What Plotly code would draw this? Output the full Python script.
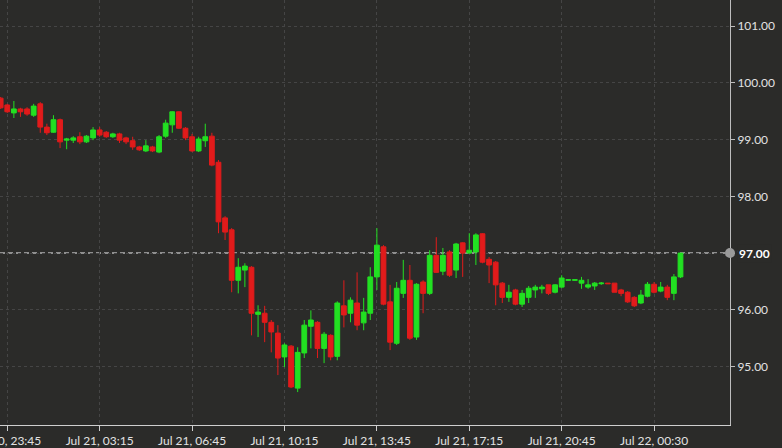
import pandas as pd
import plotly.graph_objects as go

# 15-minute candles (one slot missing during the evening session break)
slots = pd.date_range("2022-07-20 23:30", periods=105, freq="15min")
slots = slots[slots != pd.Timestamp("2022-07-21 22:00")]
times = list(slots.strftime("%b %d, %H:%M"))

open_ = [99.73, 99.61, 99.47, 99.54, 99.54, 99.43, 99.63, 99.22, 99.13, 99.35,
         98.99, 98.99, 99.05, 98.96, 99.03, 99.17, 99.13, 99.05, 99.10, 99.03,
         98.98, 98.87, 98.80, 98.87, 98.78, 99.06, 99.26, 99.49, 99.20, 99.05,
         98.80, 98.98, 99.06, 98.60, 97.62, 97.41, 96.52, 96.70, 96.75, 95.92,
         95.94, 95.78, 95.59, 95.17, 95.36, 94.62, 95.24, 95.71, 95.78, 95.32,
         95.55, 95.18, 96.07, 95.94, 96.12, 95.77, 95.94, 96.58, 97.11, 96.14,
         95.41, 96.29, 96.52, 95.52, 96.49, 96.29, 96.96, 96.68, 97.02, 96.70,
         97.18, 97.00, 97.02, 97.34, 96.89, 96.84, 96.47, 96.22, 96.35, 96.10,
         96.22, 96.35, 96.37, 96.44, 96.31, 96.40, 96.52, 96.52, 96.47, 96.40,
         96.42, 96.46, 96.47, 96.47, 96.35, 96.31, 96.22, 96.12, 96.24, 96.45,
         96.33, 96.40, 96.29, 96.58]

high = [99.75, 99.63, 99.68, 99.56, 99.57, 99.63, 99.66, 99.28, 99.43, 99.37,
        99.03, 99.06, 99.13, 99.08, 99.22, 99.22, 99.15, 99.12, 99.12, 99.05,
        99.05, 98.89, 98.99, 98.89, 99.08, 99.35, 99.50, 99.50, 99.22, 99.10,
        99.05, 99.28, 99.12, 98.64, 97.65, 97.44, 96.91, 96.82, 96.77, 96.08,
        96.07, 95.82, 95.73, 95.41, 95.38, 95.34, 95.82, 95.99, 95.80, 95.61,
        95.57, 96.15, 96.52, 96.22, 96.66, 96.21, 96.75, 97.44, 97.14, 96.44,
        96.49, 96.88, 96.79, 96.47, 96.52, 97.05, 97.28, 97.09, 97.05, 97.18,
        97.19, 97.35, 97.35, 97.35, 96.93, 96.86, 96.49, 96.44, 96.37, 96.35,
        96.42, 96.44, 96.44, 96.44, 96.45, 96.61, 96.54, 96.54, 96.58, 96.54,
        96.49, 96.49, 96.47, 96.47, 96.37, 96.33, 96.24, 96.35, 96.49, 96.49,
        96.49, 96.44, 96.63, 97.00]

low = [99.54, 99.47, 99.38, 99.40, 99.42, 99.40, 99.12, 99.08, 99.12, 98.85,
       98.83, 98.94, 98.92, 98.94, 98.99, 99.05, 99.03, 99.03, 98.94, 98.92,
       98.82, 98.80, 98.78, 98.78, 98.76, 99.03, 99.12, 99.19, 98.99, 98.78,
       98.78, 98.87, 98.53, 97.35, 97.23, 96.31, 96.29, 96.40, 95.55, 95.52,
       95.43, 95.25, 94.85, 94.99, 94.62, 94.55, 95.15, 95.32, 95.15, 95.06,
       95.11, 95.11, 95.69, 95.78, 95.64, 95.64, 95.82, 96.35, 96.08, 95.29,
       95.38, 96.21, 95.47, 95.47, 95.94, 96.26, 96.65, 96.61, 96.58, 96.56,
       96.58, 96.99, 96.79, 96.82, 96.47, 96.08, 96.12, 96.14, 96.08, 96.05,
       96.12, 96.21, 96.29, 96.26, 96.29, 96.38, 96.51, 96.51, 96.37, 96.37,
       96.35, 96.44, 96.46, 96.31, 96.24, 96.12, 96.05, 96.10, 96.22, 96.29,
       96.31, 96.17, 96.17, 96.56]

close = [99.56, 99.49, 99.54, 99.49, 99.45, 99.59, 99.22, 99.12, 99.35, 98.96,
         99.01, 99.03, 98.96, 99.06, 99.17, 99.08, 99.05, 99.10, 98.99, 98.96,
         98.87, 98.82, 98.89, 98.80, 99.05, 99.29, 99.49, 99.20, 99.03, 98.80,
         99.01, 99.05, 98.55, 97.55, 97.37, 96.52, 96.75, 96.77, 95.94, 95.96,
         95.78, 95.61, 95.15, 95.38, 94.64, 95.25, 95.73, 95.82, 95.32, 95.57,
         95.17, 96.12, 95.91, 96.17, 95.73, 95.96, 96.58, 97.14, 96.10, 95.43,
         96.38, 96.52, 95.50, 96.45, 96.29, 96.96, 96.66, 96.96, 96.61, 97.16,
         97.00, 97.05, 97.32, 96.84, 96.79, 96.44, 96.22, 96.31, 96.10, 96.29,
         96.38, 96.40, 96.40, 96.29, 96.44, 96.56, 96.53, 96.53, 96.52, 96.44,
         96.47, 96.47, 96.46, 96.31, 96.29, 96.14, 96.07, 96.26, 96.45, 96.31,
         96.40, 96.22, 96.58, 97.00]

y_ticks = [95, 96, 97, 98, 99, 100, 101]
last_price = 97.00
x_tickvals = times[1::14]

BG = "#2b2b29"
UP = "#22e022"
DOWN = "#e11b1b"
TXT = "#e2e2e2"
FONT = "Lato"
GRID = "#454545"

fig = go.Figure(go.Candlestick(
    x=times, open=open_, high=high, low=low, close=close,
    increasing=dict(line=dict(color=UP, width=1), fillcolor=UP),
    decreasing=dict(line=dict(color=DOWN, width=1), fillcolor=DOWN),
    hoverinfo="skip", showlegend=False,
))

fig.update_layout(
    width=782, height=448,
    margin=dict(l=0, r=52, t=0, b=23, autoexpand=False),
    paper_bgcolor=BG, plot_bgcolor=BG,
    font=dict(family=FONT, size=12, color=TXT),
    boxgap=0.15, boxgroupgap=0.15,
    showlegend=False,
    xaxis=dict(
        type="category", range=[-0.1, 110.5], rangeslider=dict(visible=False),
        tickmode="array", tickvals=x_tickvals, ticktext=x_tickvals,
        showgrid=True, gridcolor=GRID, griddash="3px,3px", gridwidth=1,
        showline=True, linecolor="#cfcfcf", linewidth=1,
        ticks="outside", ticklen=5, tickcolor="#cfcfcf",
        tickfont=dict(family=FONT, size=12, color=TXT),
        zeroline=False, fixedrange=True, automargin=False,
    ),
    yaxis=dict(
        side="right", range=[93.97, 101.46],
        tickmode="array", tickvals=y_ticks, tickformat=".2f",
        showgrid=True, gridcolor=GRID, griddash="3px,3px", gridwidth=1,
        showline=True, linecolor="#bdbdbd", linewidth=1,
        ticks="outside", ticklen=4, tickcolor="#bdbdbd",
        tickfont=dict(family=FONT, size=12, color=TXT),
        zeroline=False, fixedrange=True, automargin=False,
    ),
)

# last-price dashed line and marker
fig.add_shape(type="line", xref="paper", x0=0, x1=1, yref="y", y0=last_price, y1=last_price,
              line=dict(color="#8f8f8f", width=2, dash="5px,3px"), layer="below")
fig.add_shape(type="circle", xref="paper", xsizemode="pixel", xanchor=1, x0=-5, x1=5,
              yref="y", ysizemode="pixel", yanchor=last_price, y0=-5, y1=5,
              fillcolor="#9a9a9a", line=dict(width=0))
fig.add_annotation(xref="paper", x=1, xanchor="left", xshift=7, yref="y", y=last_price,
                   text="<b>%.2f</b>" % last_price, showarrow=False,
                   font=dict(family=FONT, size=12, color="#ffffff"), bgcolor=BG)

fig.write_html("out.html", config={"displayModeBar": False},
               post_script="document.body.style.margin='0';")
